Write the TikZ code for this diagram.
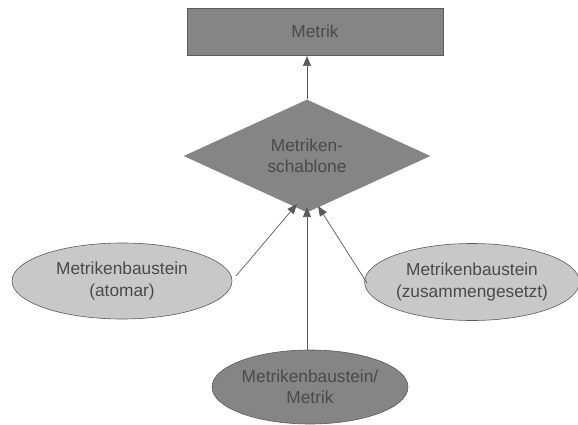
\documentclass[tikz,border=0pt]{standalone}
\usepackage{fontspec}
\setmainfont{Liberation Sans}
\usetikzlibrary{shapes.geometric,arrows.meta}
\definecolor{darkfill}{HTML}{858585}
\definecolor{lightfill}{HTML}{C8C8C8}
\definecolor{edgegray}{HTML}{5A5A5A}
\definecolor{txtgray}{HTML}{4A4A4A}
\begin{document}
\begin{tikzpicture}[x=1pt,y=-1pt,
  lbl/.style={font=\fontsize{17.3}{21.5}\selectfont, text=txtgray, align=center},
  darkbox/.style={lbl, draw=edgegray, fill=darkfill, line width=0.8pt},
  lightell/.style={lbl, ellipse, draw=edgegray, fill=lightfill, line width=0.6pt, inner sep=0pt},
  conn/.style={draw=edgegray, line width=0.7pt, -{Triangle[length=10pt,width=8pt]}}
]
\useasboundingbox (0,0) rectangle (578,425);
\node[darkbox, rectangle, minimum width=256pt, minimum height=47pt, inner sep=0pt] (metrik) at (315,31.5) {Metrik};
\node[darkbox, diamond, draw=none, minimum width=247pt, minimum height=93pt, inner sep=0pt] (schab) at (307,156) {Metriken-\\schablone};
\node[lightell, minimum width=220pt, minimum height=76pt] (atom) at (122,281) {Metrikenbaustein\\(atomar)};
\node[lightell, minimum width=202pt, minimum height=77pt] (zus) at (472,282) {Metrikenbaustein\\(zusammengesetzt)};
\node[lightell, fill=darkfill, minimum width=196pt, minimum height=74pt] (bm) at (310,387) {Metrikenbaustein/\\Metrik};
\coordinate (tTop) at (307,56);
\coordinate (tL) at (297,204);
\coordinate (tM) at (307,207);
\coordinate (tR) at (318,206);
\coordinate (sL) at (236,276);
\coordinate (sR) at (367,283);
\draw[conn] (schab.north) -- (tTop);
\draw[conn] (sL) -- (tL);
\draw[conn] (bm.north -| tM) -- (tM);
\draw[conn] (sR) -- (tR);
\end{tikzpicture}
\end{document}
